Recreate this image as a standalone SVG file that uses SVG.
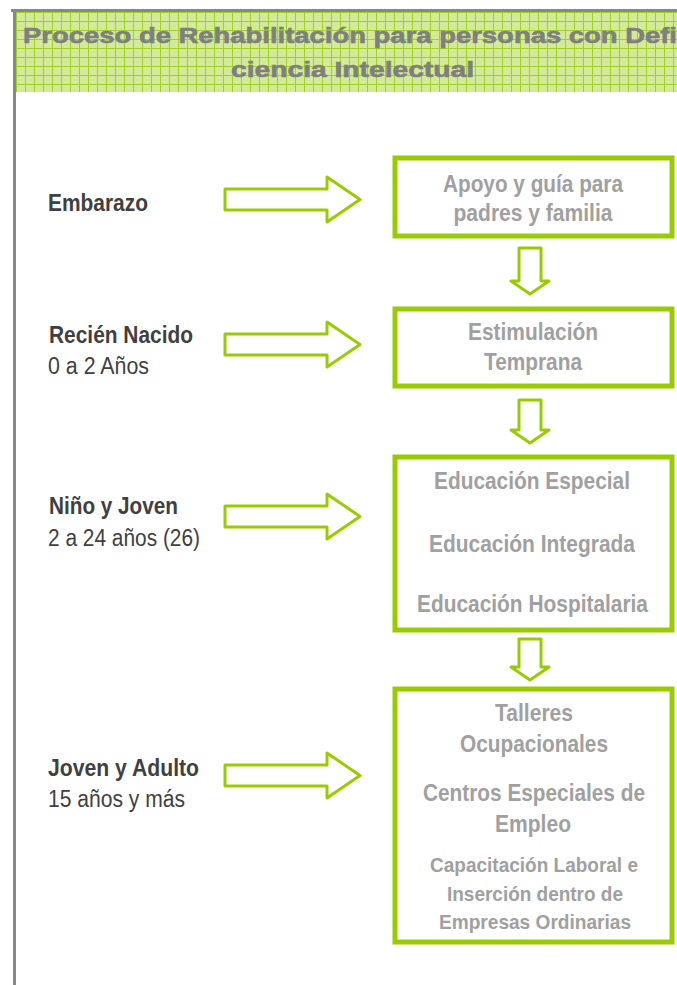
<svg xmlns="http://www.w3.org/2000/svg" width="677" height="985" viewBox="0 0 677 985">
<defs>
<pattern id="grid" x="16" y="12" width="9" height="9" patternUnits="userSpaceOnUse">
<rect width="9" height="9" fill="#d3eb98"/>
<path d="M0 0.5H9M0.5 0V9" stroke="#a2d02a" stroke-width="1" fill="none"/>
</pattern>
<style>
.box{fill:#fff;stroke:#99cc00;stroke-width:5}
.arr{fill:#fff;stroke:#99cc00;stroke-width:3;stroke-linejoin:round}
.bt{font-family:"Liberation Sans",Arial,sans-serif;font-weight:bold;font-size:23px;fill:#a0a0a0;text-anchor:middle}
.bs{font-size:21px}
.lb{font-family:"Liberation Sans",Arial,sans-serif;font-weight:bold;font-size:23px;fill:#404040}
.lr{font-family:"Liberation Sans",Arial,sans-serif;font-size:23px;fill:#404040}
.tt{font-family:"Liberation Sans",Arial,sans-serif;font-weight:bold;font-size:22px;fill:#7f7f7f;stroke:#7f7f7f;stroke-width:0.6}
</style>
</defs>
<rect width="677" height="985" fill="#fff"/>
<g id="header">
<rect x="16" y="12" width="661" height="80" fill="url(#grid)"/>
<rect x="11" y="9" width="666" height="3" fill="#888"/>
<rect x="13" y="9" width="3" height="976" fill="#888"/>
<text class="tt" x="23" y="43" textLength="654" lengthAdjust="spacingAndGlyphs">Proceso de Rehabilitación para personas con Defi</text>
<text class="tt" x="231" y="77" textLength="243" lengthAdjust="spacingAndGlyphs">ciencia Intelectual</text>
</g>
<g id="connectors">
<path class="arr" d="M225 189H327V177L360 199.5L327 222V210H225Z"/>
<path class="arr" d="M225 334H327V322L360 344.5L327 367V355H225Z"/>
<path class="arr" d="M225 506H327V494L360 516.5L327 539V527H225Z"/>
<path class="arr" d="M225 765H327V753L360 775.5L327 798V786H225Z"/>
<path class="arr" d="M519 248H541V281H549L530 294L511 281H519Z"/>
<path class="arr" d="M519 400H541V430H549L530 443L511 430H519Z"/>
<path class="arr" d="M519 639H541V667H549L530 680L511 667H519Z"/>
</g>
<g id="embarazo"><text class="lb" x="48" y="211" textLength="100" lengthAdjust="spacingAndGlyphs">Embarazo</text></g>
<g id="recien"><text class="lb" x="49" y="343" textLength="144" lengthAdjust="spacingAndGlyphs">Recién Nacido</text><text class="lr" x="48" y="374" textLength="101" lengthAdjust="spacingAndGlyphs">0 a 2 Años</text></g>
<g id="nino"><text class="lb" x="49" y="514" textLength="129" lengthAdjust="spacingAndGlyphs">Niño y Joven</text><text class="lr" x="48" y="546" textLength="152" lengthAdjust="spacingAndGlyphs">2 a 24 años (26)</text></g>
<g id="adulto"><text class="lb" x="48" y="776" textLength="151" lengthAdjust="spacingAndGlyphs">Joven y Adulto</text><text class="lr" x="48" y="807" textLength="137" lengthAdjust="spacingAndGlyphs">15 años y más</text></g>
<g id="apoyo">
<rect class="box" x="395" y="158" width="277" height="78"/>
<text class="bt" x="533" y="192" textLength="180" lengthAdjust="spacingAndGlyphs">Apoyo y guía para</text>
<text class="bt" x="533" y="221" textLength="159" lengthAdjust="spacingAndGlyphs">padres y familia</text>
</g>
<g id="estimulacion">
<rect class="box" x="395" y="309" width="277" height="77"/>
<text class="bt" x="533" y="340" textLength="130" lengthAdjust="spacingAndGlyphs">Estimulación</text>
<text class="bt" x="533" y="370" textLength="98" lengthAdjust="spacingAndGlyphs">Temprana</text>
</g>
<g id="educacion">
<rect class="box" x="395" y="457" width="277" height="173"/>
<text class="bt" x="532" y="489" textLength="196" lengthAdjust="spacingAndGlyphs">Educación Especial</text>
<text class="bt" x="532" y="552" textLength="206" lengthAdjust="spacingAndGlyphs">Educación Integrada</text>
<text class="bt" x="532.5" y="612" textLength="231" lengthAdjust="spacingAndGlyphs">Educación Hospitalaria</text>
</g>
<g id="adultos">
<rect class="box" x="395" y="689" width="277" height="253"/>
<text class="bt" x="534" y="721" textLength="78" lengthAdjust="spacingAndGlyphs">Talleres</text>
<text class="bt" x="534" y="752" textLength="148" lengthAdjust="spacingAndGlyphs">Ocupacionales</text>
<text class="bt" x="534" y="801" textLength="222" lengthAdjust="spacingAndGlyphs">Centros Especiales de</text>
<text class="bt" x="533" y="832" textLength="76" lengthAdjust="spacingAndGlyphs">Empleo</text>
<text class="bt bs" x="534" y="872" textLength="208" lengthAdjust="spacingAndGlyphs">Capacitación Laboral e</text>
<text class="bt bs" x="535" y="901" textLength="176" lengthAdjust="spacingAndGlyphs">Inserción dentro de</text>
<text class="bt bs" x="535" y="929" textLength="192" lengthAdjust="spacingAndGlyphs">Empresas Ordinarias</text>
</g>
</svg>
